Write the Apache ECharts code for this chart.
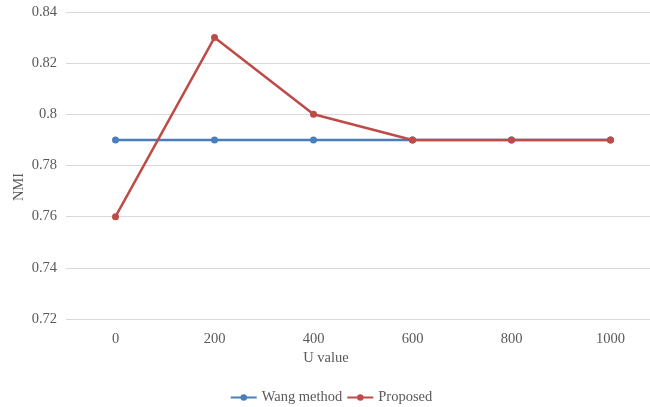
<!DOCTYPE html>
<html><head><meta charset="utf-8">
<script src="https://cdn.jsdelivr.net/npm/echarts@6/dist/echarts.min.js"></script>
<style>html,body{margin:0;padding:0;background:#fff;overflow:hidden}#c{width:662px;height:407px}</style>
</head><body><div id="c"></div>
<script>
const categories = ['0','200','400','600','800','1000'];
const wang = [0.79,0.79,0.79,0.79,0.79,0.79];
const proposed = [0.76,0.83,0.80,0.79,0.79,0.79];
const font = 'Liberation Serif';
const txt = '#595959';
const chart = echarts.init(document.getElementById('c'));
chart.setOption({
  animation:false,
  textStyle:{fontFamily:font},
  title:{text:'U value',left:326,top:351,textAlign:'center',padding:0,
    textStyle:{color:txt,fontSize:14.5,fontWeight:'normal',fontFamily:font}},
  graphic:[{type:'text',x:19,y:187,rotation:Math.PI/2,
    style:{text:'NMI',fill:txt,fontSize:14.5,fontFamily:font,align:'center',verticalAlign:'middle'}}],
  grid:{left:66,top:12,right:2,bottom:88,containLabel:false},
  xAxis:{type:'category',data:categories,boundaryGap:true,
    axisLine:{show:false},axisTick:{show:false},
    axisLabel:{color:txt,fontSize:14.5,fontFamily:font,margin:13}},
  yAxis:{type:'value',min:0.72,max:0.84,interval:0.02,
    axisLabel:{color:txt,fontSize:14.5,fontFamily:font,margin:9,
      formatter:v=>String(parseFloat(v.toFixed(2)))},
    splitLine:{lineStyle:{color:'#d9d9d9',width:1}},
    axisLine:{show:false},axisTick:{show:false}},
  legend:{bottom:-3,left:'center',itemGap:4,itemWidth:26,itemHeight:8,
    textStyle:{color:txt,fontSize:14.5,fontFamily:font},
    data:['Wang method','Proposed']},
  series:[
    {name:'Wang method',type:'line',data:wang,symbol:'circle',symbolSize:7,
      lineStyle:{color:'#4a7ebb',width:2.5},itemStyle:{color:'#4a7ebb'}},
    {name:'Proposed',type:'line',data:proposed,symbol:'circle',symbolSize:7,
      lineStyle:{color:'#be4b48',width:2.5},itemStyle:{color:'#be4b48'}}
  ]
});
</script></body></html>
